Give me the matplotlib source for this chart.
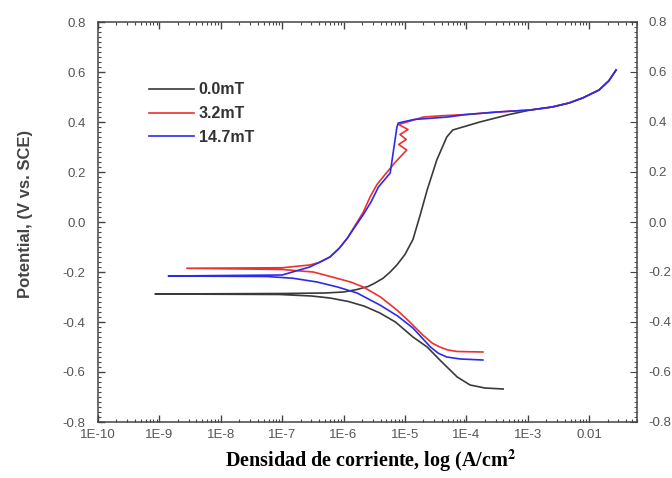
import matplotlib
matplotlib.use("Agg")
import matplotlib.pyplot as plt
from matplotlib.ticker import FixedLocator, LogLocator, MultipleLocator, NullFormatter

# ---- data (current density A/cm^2, potential V vs SCE) ----
black_i = [3.98e-4, 2e-4, 1.15e-4, 7.1e-5, 3.7e-5, 2.3e-5, 1.35e-5, 7e-6, 3.9e-6, 2.2e-6, 1.2e-6,
           6.0e-7, 3e-7, 9.1e-8, 1e-8, 8.5e-10,
           1e-8, 1e-7, 5e-7, 1e-6, 1.66e-6, 2.5e-6, 3.2e-6, 4.4e-6, 5.75e-6, 7.5e-6, 1e-5, 1.35e-5,
           1.78e-5, 2.3e-5, 3.3e-5, 4.8e-5, 6.0e-5, 1.66e-4, 5e-4, 1.1e-3, 2.5e-3, 4.7e-3, 8e-3,
           1.45e-2, 2.1e-2, 2.75e-2]
black_v = [-0.668, -0.664, -0.652, -0.62, -0.552, -0.50, -0.46, -0.40, -0.364, -0.337, -0.318,
           -0.304, -0.296, -0.29, -0.289, -0.288,
           -0.287, -0.286, -0.284, -0.28, -0.27, -0.258, -0.245, -0.225, -0.20, -0.17, -0.13, -0.07,
           0.03, 0.128, 0.248, 0.34, 0.368, 0.40, 0.43, 0.448, 0.46, 0.476, 0.497,
           0.528, 0.565, 0.608]

red_i = [1.86e-4, 7.1e-5, 5e-5, 3.7e-5, 2.8e-5, 1.95e-5, 1.2e-5, 7.4e-6, 4e-6, 2.1e-6, 1.3e-6,
         7e-7, 3.2e-7, 1e-7, 2.8e-9,
         1e-7, 2.8e-7, 4e-7, 6e-7, 8.5e-7, 1.15e-6, 2.1e-6, 2.7e-6, 3.5e-6, 4.4e-6, 7e-6, 1.07e-5,
         7.9e-6, 1.05e-5, 8.3e-6, 1.12e-5, 7.9e-6, 1.26e-5, 2e-5, 4e-5, 1e-4, 3.2e-4, 1.1e-3,
         2.5e-3, 4.7e-3, 8e-3, 1.45e-2, 2.1e-2, 2.75e-2]
red_v = [-0.52, -0.518, -0.512, -0.50, -0.485, -0.452, -0.40, -0.352, -0.30, -0.26, -0.24,
         -0.222, -0.20, -0.19, -0.185,
         -0.183, -0.172, -0.162, -0.14, -0.105, -0.065, 0.04, 0.10, 0.15, 0.18, 0.24, 0.288,
         0.31, 0.33, 0.35, 0.37, 0.39, 0.405, 0.42, 0.425, 0.43, 0.44, 0.448,
         0.46, 0.476, 0.497, 0.528, 0.565, 0.608]

blue_i = [1.86e-4, 8e-5, 4.8e-5, 3.5e-5, 2.6e-5, 1.35e-5, 7.5e-6, 3.9e-6, 1.66e-6, 8e-7, 3.7e-7,
          1.5e-7, 5.6e-8, 1.4e-9,
          1e-7, 2.8e-7, 4e-7, 6e-7, 8.5e-7, 1.15e-6, 2.1e-6, 2.8e-6, 3.7e-6, 5.75e-6, 7.4e-6,
          7.8e-6, 1.4e-5, 5e-5, 1e-4, 3.2e-4, 1.1e-3, 2.5e-3, 4.7e-3, 8e-3, 1.45e-2, 2.1e-2, 2.75e-2]
blue_v = [-0.552, -0.548, -0.54, -0.525, -0.50, -0.424, -0.375, -0.332, -0.284, -0.26, -0.24,
          -0.225, -0.218, -0.216,
          -0.212, -0.18, -0.162, -0.14, -0.105, -0.065, 0.03, 0.08, 0.14, 0.196, 0.38,
          0.396, 0.41, 0.42, 0.43, 0.44, 0.448, 0.46, 0.476, 0.497, 0.528, 0.565, 0.608]

labels = ["0.0mT", "3.2mT", "14.7mT"]
colors = ["#3a3a3a", "#ee3030", "#2b2bef"]

x_ticks = [1e-10, 1e-9, 1e-8, 1e-7, 1e-6, 1e-5, 1e-4, 1e-3, 1e-2]
x_ticklabels = ["1E-10", "1E-9", "1E-8", "1E-7", "1E-6", "1E-5", "1E-4", "1E-3", "0.01"]
y_ticks = [-0.8, -0.6, -0.4, -0.2, 0.0, 0.2, 0.4, 0.6, 0.8]

SANS = ["Liberation Sans", "DejaVu Sans"]

# ---- figure ----
fig = plt.figure(figsize=(6.72, 4.78), dpi=100)
ax = fig.add_axes([98/672, 1-422/478, (637-98)/672, 400/478])

series = [(black_i, black_v), (red_i, red_v), (blue_i, blue_v)]
for (xi, yv), lab, c in zip(series, labels, colors):
    ax.plot(xi, yv, color=c, lw=1.2, label=lab)

ax.set_xscale("log")
ax.set_xlim(1e-10, 10**-1.22)
ax.set_ylim(-0.8, 0.8)

tick_col = "#555555"
tfs = 9.5
ax.xaxis.set_major_locator(FixedLocator(x_ticks))
ax.set_xticklabels(x_ticklabels, family=SANS)
ax.xaxis.set_minor_locator(LogLocator(base=10, subs=range(2, 10), numticks=30))
ax.xaxis.set_minor_formatter(NullFormatter())
ax.yaxis.set_major_locator(FixedLocator(y_ticks))
ax.set_yticklabels([f"{v:.1f}" for v in y_ticks], family=SANS)
ax.yaxis.set_minor_locator(MultipleLocator(0.02))

ax.tick_params(which="both", direction="in", top=True, right=True, colors="#444444",
               labelcolor=tick_col, labelsize=tfs)
ax.tick_params(which="major", length=5, width=1)
ax.tick_params(which="minor", length=2.5, width=0.8)
ax.tick_params(axis="x", pad=5)
ax.tick_params(axis="y", pad=9)
for s in ax.spines.values():
    s.set_color("#444444")
    s.set_linewidth(1.1)

ax2 = ax.twinx()
ax2.set_ylim(-0.8, 0.8)
ax2.yaxis.set_major_locator(FixedLocator(y_ticks))
ax2.set_yticklabels([f"{v:.1f}" for v in y_ticks], family=SANS)
ax2.yaxis.set_minor_locator(MultipleLocator(0.02))
ax2.tick_params(which="both", direction="in", colors="#444444", labelcolor=tick_col, labelsize=tfs)
ax2.tick_params(which="major", length=5, pad=8)
ax2.tick_params(which="minor", length=2.5)
for s in ax2.spines.values():
    s.set_visible(False)

fig.text(26/672, 1-214/478, "Potential, (V vs. SCE)", rotation=90, ha="center", va="center",
         fontsize=12, fontweight="bold", color="#444444", family=SANS)
fig.text(371/672, 1-461/478, r"Densidad de corriente, log (A/cm$^\mathbf{2}$", ha="center",
         va="center", fontsize=14.5, fontweight="bold",
         family=["Liberation Serif", "DejaVu Serif"], math_fontfamily="stix")

leg = ax.legend(loc="upper left", bbox_to_anchor=(0.068, 0.885), frameon=False,
                handlelength=2.8, handletextpad=0.3, labelspacing=0.55,
                prop={"family": SANS, "weight": "bold", "size": 11.5})
for t in leg.get_texts():
    t.set_color("#333333")

fig.savefig("out.png", dpi=100)
